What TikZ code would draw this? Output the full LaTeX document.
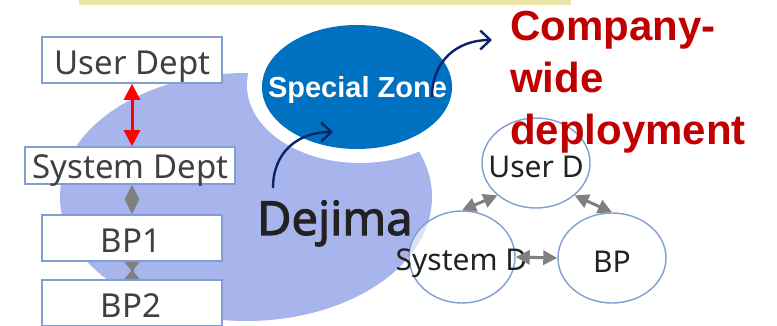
\documentclass[tikz,border=0pt]{standalone}
\usepackage{fontspec}
\setmainfont{Noto Sans}
\newfontfamily\headfont{Liberation Sans}
\newfontfamily\dejimafont{Noto Sans}[AutoFakeBold=2.2]
\usetikzlibrary{arrows.meta,shapes.geometric}

\definecolor{bandyellow}{RGB}{237,227,167}
\definecolor{dejimablue}{RGB}{168,180,236}
\definecolor{zoneblue}{RGB}{0,112,192}
\definecolor{boxblue}{RGB}{128,158,210}
\definecolor{labelgray}{RGB}{64,64,64}
\definecolor{darktext}{RGB}{34,34,34}
\definecolor{navy}{RGB}{10,36,100}
\definecolor{linkgray}{RGB}{128,128,128}
\definecolor{deepred}{RGB}{192,0,0}

\begin{document}
\begin{tikzpicture}[x=1pt,y=-1pt,
  deptbox/.style={draw=boxblue, line width=1.6pt, fill=white, inner sep=0pt,
    minimum width=180pt, minimum height=46pt},
  deptlabel/.style={anchor=base, inner sep=0pt, text=labelgray,
    font=\fontsize{33}{36}\selectfont},
  roundnode/.style={ellipse, draw=boxblue, line width=1.4pt, fill=white,
    fill opacity=0.6, inner sep=0pt, minimum width=108pt, minimum height=90pt},
  roundlabel/.style={anchor=base, inner sep=0pt, text=darktext,
    font=\fontsize{30}{33}\selectfont},
  curvearrow/.style={draw=navy, line width=2.4pt,
    -{Straight Barb[length=10pt,width=19pt,line width=2.4pt]}},
  linkarrow/.style={draw=linkgray, line width=3pt,
    {Triangle[length=14pt,width=14pt]}-{Triangle[length=14pt,width=14pt]}}
]
\useasboundingbox (0,0) rectangle (777,325);
\clip (0,0) rectangle (777,325);

% title band
\fill[bandyellow] (79,0) rectangle (571,5);

% Dejima area with white ring cut out around the special zone
\fill[dejimablue] (246,197) ellipse [x radius=186, y radius=124];
\fill[white] (360,85) ellipse [x radius=113, y radius=78];
\node[ellipse, fill=zoneblue, inner sep=0pt, minimum width=190pt,
  minimum height=124pt] (zone) at (357,87) {};
\node[anchor=base, inner sep=0pt, text=white,
  font=\headfont\bfseries\fontsize{29}{32}\selectfont] (zonetext) at (357.5,97) {Special Zone};

\node[anchor=base west, inner sep=0pt, text=darktext,
  font=\dejimafont\bfseries\fontsize{47}{50}\selectfont] (dejima) at (257,235) {Dejima};

% curved arrows out of Dejima and out of the special zone
\coordinate (a1s) at (273,188);
\coordinate (a1e) at (333,132);
\coordinate (a2s) at (432,97);
\coordinate (a2e) at (492,40);
\draw[curvearrow] (a1s) .. controls (273,152) and (298,132) .. (a1e);
\draw[curvearrow] (a2s) .. controls (432,61) and (457,40) .. (a2e);

% department stack
\node[deptbox] (ud) at (132,60) {};
\node[deptbox, minimum width=210pt, minimum height=37pt] (sdp) at (130,165.5) {};
\node[deptbox] (bp1) at (132,238) {};
\node[deptbox] (bp2) at (132,303) {};
\node[deptlabel] (udtext) at (132.5,74) {User Dept};
\node[deptlabel] (sdptext) at (130.5,178) {System Dept};
\node[deptlabel] (bp1text) at (131,252) {BP1};
\node[deptlabel] (bp2text) at (131,317) {BP2};

\draw[red, line width=3pt,
  {Triangle[length=16pt,width=16pt]}-{Triangle[length=16pt,width=16pt]}]
  (ud.south) -- (ud.south |- sdp.north);
\draw[linkgray, line width=1pt,
  {Triangle[length=15.5pt,width=15pt]}-{Triangle[length=15.5pt,width=15pt]}]
  (bp1.north |- sdp.south) -- (bp1.north);
\draw[linkgray, line width=3pt,
  {Triangle[reversed,length=9.5pt,width=15pt]}-{Triangle[reversed,length=9.5pt,width=15pt]}]
  (bp1.south) -- (bp2.north);

% company-wide cluster
\node[roundnode] (ru) at (536,163) {};
\node[roundnode, minimum width=106pt, minimum height=92pt] (rs) at (462,257) {};
\node[roundnode] (rb) at (612,258) {};
\node[roundlabel] (rutext) at (536,177) {User D};
\node[roundlabel] (rstext) at (461.5,270) {System D};
\node[roundlabel] (rbtext) at (612,272) {BP};
\draw[linkarrow] (rs.north) -- (ru.-140);
\draw[linkarrow] (ru.-40) -- (rb.north);
\draw[linkarrow] (rs.east) -- (rb.west);

% red heading
\node[anchor=base west, align=left, inner sep=0pt, text=deepred,
  font=\headfont\bfseries\fontsize{42}{52}\selectfont] (company) at (510,144)
  {Company-\\wide\\deployment};
\end{tikzpicture}
\end{document}
